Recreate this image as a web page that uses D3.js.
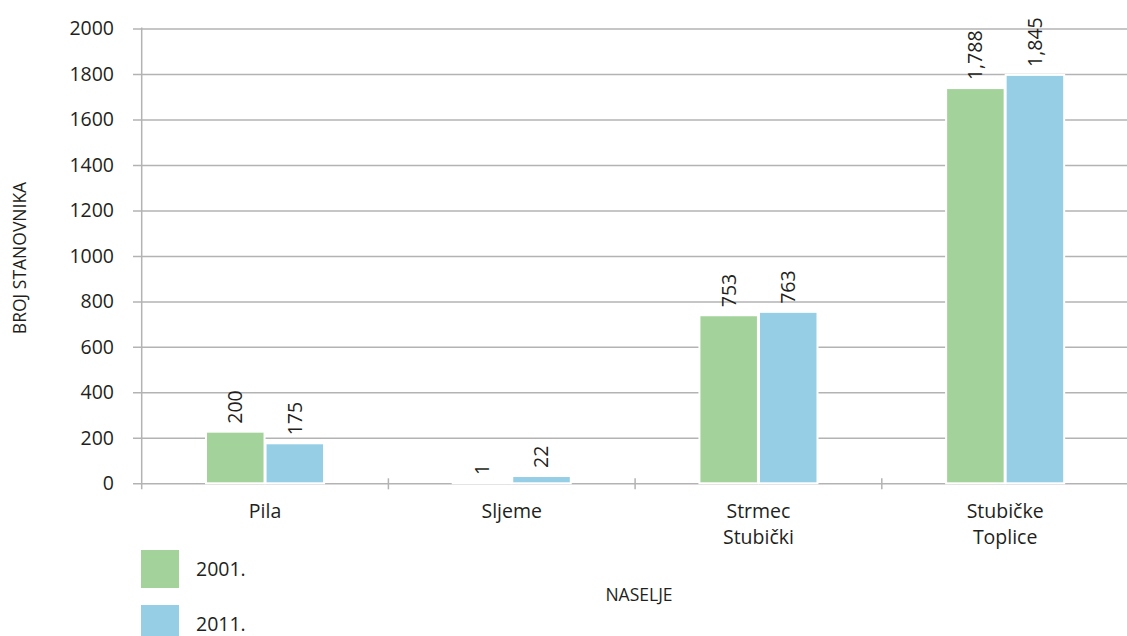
<!DOCTYPE html>
<html>
<head>
<meta charset="utf-8">
<script src="https://cdn.jsdelivr.net/npm/d3@7/dist/d3.min.js"></script>
<style>
  html, body { margin: 0; padding: 0; background: #fff; }
  svg { display: block; font-family: "Open Sans", sans-serif; }
</style>
</head>
<body>
<svg id="chart" width="1127" height="636"></svg>
<script>
// ---- data ----
const categories = [["Pila"], ["Sljeme"], ["Strmec", "Stubički"], ["Stubičke", "Toplice"]];
const seriesNames = ["2001.", "2011."];
// bar heights
const values2001 = [227, 1, 739, 1738];
const values2011 = [176, 32, 754, 1796];
// data labels as printed on the bars
const labels2001 = ["200", "1", "753", "1,788"];
const labels2011 = ["175", "22", "763", "1,845"];
const yTicks = [0, 200, 400, 600, 800, 1000, 1200, 1400, 1600, 1800, 2000];
const colors = ["#a3d39b", "#96cfe5"];
const yTitle = "BROJ STANOVNIKA";
const xTitle = "NASELJE";

// ---- layout ----
const svg = d3.select("#chart");
const plotLeft = 141.7, plotRight = 1128.5, plotTop = 28.5, plotBottom = 483.3;
const textColor = "#231f20";
const gridColor = "#b3b3b3";

const catKeys = categories.map(c => c.join(" "));
const x0 = d3.scaleBand().domain(catKeys).range([plotLeft, plotRight]).padding(0);
const x1 = d3.scaleBand().domain(seriesNames).range([0, x0.bandwidth()])
  .paddingInner(0.017).paddingOuter(1.08);
const y = d3.scaleLinear().domain([0, 2000]).range([plotBottom, plotTop]);

// gridlines via axis
const gridAxis = d3.axisLeft(y).tickValues(yTicks).tickSize(-(1127 - 133)).tickFormat("");
const g = svg.append("g").attr("transform", `translate(133,0)`).call(gridAxis);
g.select(".domain").remove();
g.selectAll(".tick line").attr("stroke", gridColor).attr("stroke-width", 1.5);

// y tick labels
const yAxis = d3.axisLeft(y).tickValues(yTicks).tickSize(0).tickPadding(0).tickFormat(d => String(d));
const ya = svg.append("g").attr("transform", `translate(114,0)`).call(yAxis);
ya.select(".domain").remove();
ya.selectAll("text").attr("font-size", 19.5).attr("fill", textColor)
  .attr("font-family", "'Open Sans', sans-serif");

// vertical axis line
svg.append("line").attr("x1", plotLeft).attr("x2", plotLeft).attr("y1", plotTop - 1).attr("y2", plotBottom + 6)
  .attr("stroke", gridColor).attr("stroke-width", 1.5);

// category ticks
const xTickPos = catKeys.slice(1).map(k => x0(k));
svg.selectAll(".ctick").data(xTickPos).join("line")
  .attr("x1", d => d).attr("x2", d => d)
  .attr("y1", plotBottom - 5).attr("y2", plotBottom + 6)
  .attr("stroke", gridColor).attr("stroke-width", 1.5);

// bars
const series = [values2001, values2011];
const labelSets = [labels2001, labels2011];
const barData = [];
catKeys.forEach((k, i) => {
  seriesNames.forEach((s, j) => {
    barData.push({ cat: k, s, j, v: series[j][i], label: labelSets[j][i] });
  });
});
svg.append("g").selectAll("rect").data(barData).join("rect")
  .attr("x", d => x0(d.cat) + x1(d.s))
  .attr("width", x1.bandwidth())
  .attr("y", d => y(d.v))
  .attr("height", d => y(0) - y(d.v))
  .attr("fill", d => colors[d.j])
  .attr("stroke", "#fff").attr("stroke-width", 2);

// value labels
svg.append("g").selectAll("text").data(barData).join("text")
  .attr("transform", d => `translate(${x0(d.cat) + x1(d.s) + x1.bandwidth() / 2},${y(d.v) - 8}) rotate(-90)`)
  .attr("dy", "0.35em")
  .attr("text-anchor", "start")
  .attr("font-size", 19.5)
  .attr("fill", textColor)
  .text(d => d.label);

// category labels
const cl = svg.append("g").selectAll("text").data(categories).join("text")
  .attr("x", (d, i) => x0(catKeys[i]) + x0.bandwidth() / 2)
  .attr("y", 518)
  .attr("text-anchor", "middle")
  .attr("font-size", 19.5)
  .attr("fill", textColor);
cl.selectAll("tspan").data(d => d).join("tspan")
  .attr("x", function () { return d3.select(this.parentNode).attr("x"); })
  .attr("dy", (d, i) => i === 0 ? 0 : 26)
  .text(d => d);

// axis titles
svg.append("text")
  .attr("transform", "translate(26,258) rotate(-90)")
  .attr("text-anchor", "middle")
  .attr("font-size", 17.5)
  .attr("fill", textColor)
  .text(yTitle);
svg.append("text")
  .attr("x", 639).attr("y", 601)
  .attr("text-anchor", "middle")
  .attr("font-size", 17.5)
  .attr("fill", textColor)
  .text(xTitle);

// legend
const legend = svg.append("g").selectAll("g").data(seriesNames).join("g")
  .attr("transform", (d, i) => `translate(141,${550 + i * 55})`);
legend.append("rect").attr("width", 38).attr("height", 38).attr("fill", (d, i) => colors[i]);
legend.append("text").attr("x", 55).attr("y", 26)
  .attr("font-size", 19.5).attr("fill", textColor).text(d => d);
</script>
</body>
</html>
